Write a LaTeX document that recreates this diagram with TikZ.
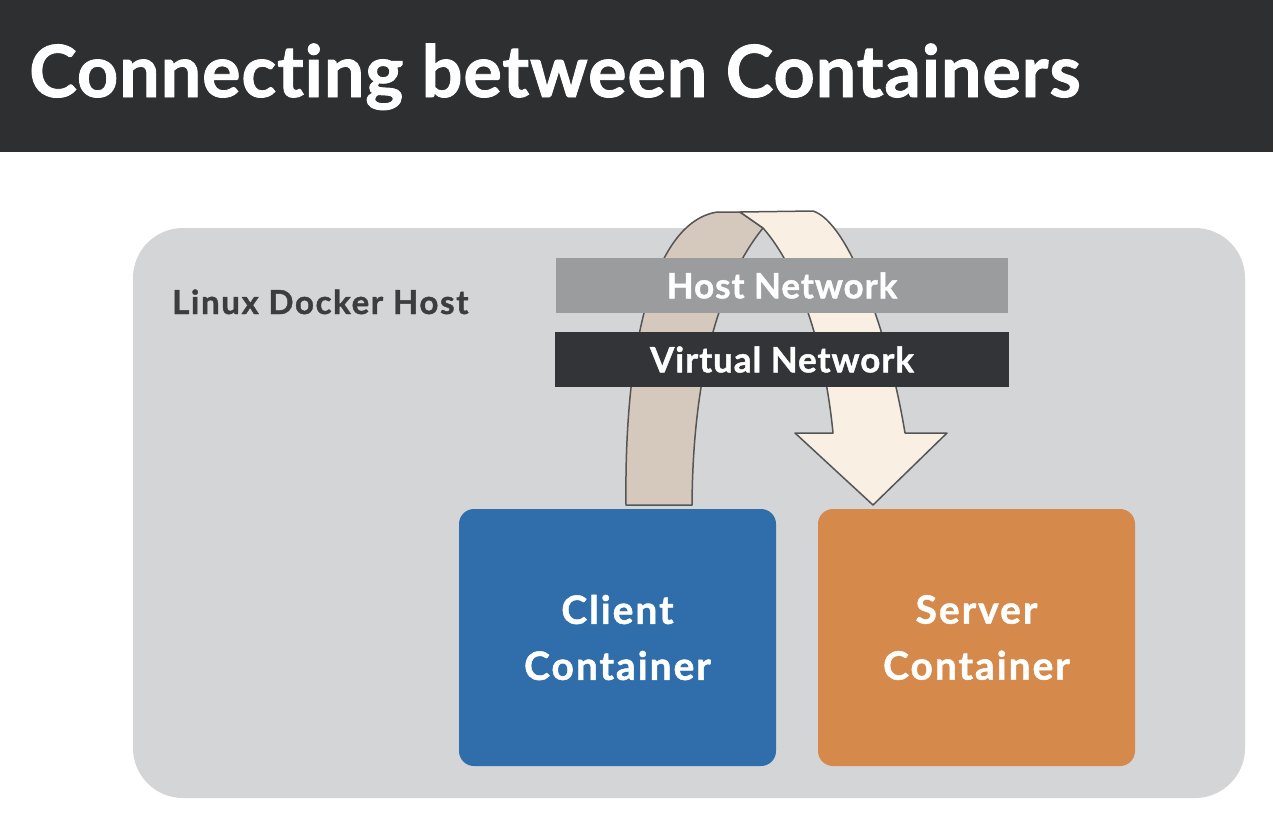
\documentclass[tikz,border=0pt]{standalone}
\usepackage{fontspec}
\setmainfont{Lato}[Ligatures=NoCommon, BoldFeatures={FakeBold=1.2}]
\definecolor{titlebg}{HTML}{2E2F31}
\definecolor{hostbg}{HTML}{D4D5D7}
\definecolor{hosttxt}{HTML}{3D3D3F}
\definecolor{hostnet}{HTML}{9B9C9E}
\definecolor{virtnet}{HTML}{333437}
\definecolor{clientc}{HTML}{2F6DAB}
\definecolor{serverc}{HTML}{D5894A}
\definecolor{arrowback}{HTML}{D4C9BC}
\definecolor{arrowfront}{HTML}{F9EFE3}
\definecolor{arrowline}{HTML}{555555}
\newcommand{\trk}[1]{\addfontfeature{LetterSpace=#1}}
\begin{document}
\begin{tikzpicture}[x=1pt,y=-1pt,
  bar/.style={inner sep=0, minimum width=#1, minimum height=55pt, text=white,
    font=\fontsize{35}{40}\selectfont\bfseries\trk{2.7}},
  cont/.style={fill=#1, rounded corners=15pt, inner sep=0, minimum width=317pt,
    minimum height=257pt, text=white, align=center,
    font=\fontsize{39}{56}\selectfont\bfseries\trk{5}},
  ribbon/.style={draw=arrowline, line width=1.5pt, line join=round}]
\useasboundingbox (0,0) rectangle (1273,839);
\fill[white] (0,0) rectangle (1273,839);
\fill[titlebg] (0,0) rectangle (1273,152);
\node[anchor=base west, inner sep=0, text=white, font=\fontsize{72}{80}\selectfont\bfseries\trk{1.2}] (title) at (29,97) {Connecting between Containers};
\node[fill=hostbg, rounded corners=50pt, inner sep=0, minimum width=1112pt, minimum height=570pt] (host) at (689,513) {};
\node[anchor=base west, inner sep=0, text=hosttxt, font=\fontsize{33}{40}\selectfont\bfseries\trk{5}] (hostlbl) at (172,314) {Linux Docker Host};
% ribbon arrow
\path[ribbon, fill=arrowback] (626,505) .. controls (624,340) and (655,222) .. (717,212)
  -- (740,212) -- (763,228) .. controls (725,275) and (693,360) .. (692,505) -- cycle;
\path[ribbon, fill=arrowfront] (740,212) -- (813,211) .. controls (848,222) and (888,330) .. (905,433)
  -- (947,433) -- (873,505) -- (795,433) -- (833,433)
  .. controls (825,350) and (800,270) .. (763,228) -- cycle;
\node[bar=452pt, fill=hostnet] (hostnet) at (782,285.5) {Host Network};
\node[bar=454pt, fill=virtnet] (virtnet) at (782,359.5) {Virtual Network};
\node[cont=clientc] (client) at (617.5,637.5) {Client\\Container};
\node[cont=serverc] (server) at (976.5,637.5) {Server\\Container};
\end{tikzpicture}
\end{document}
